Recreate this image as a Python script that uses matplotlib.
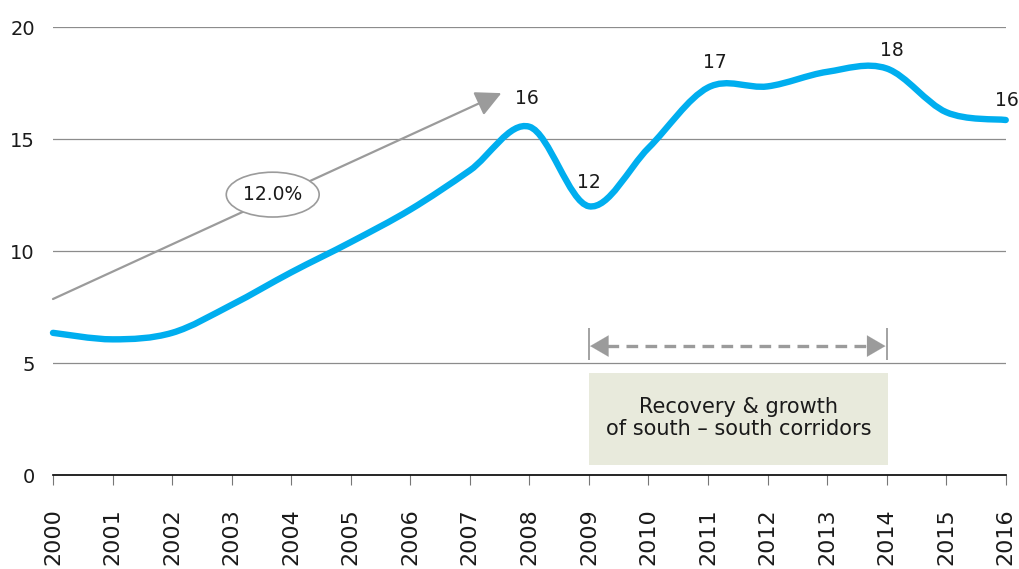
import matplotlib
matplotlib.use("Agg")
import numpy as np
import matplotlib.pyplot as plt
from matplotlib.path import Path
from matplotlib.patches import PathPatch, Ellipse, Rectangle

# data
years = [2000, 2001, 2002, 2003, 2004, 2005, 2006, 2007, 2008,
         2009, 2010, 2011, 2012, 2013, 2014, 2015, 2016]
values = [6.35, 6.06, 6.35, 7.6, 9.05, 10.4, 11.85, 13.6, 15.55,
          12.0, 14.6, 17.3, 17.35, 18.0, 18.15, 16.2, 15.85]
label_years = [2008, 2009, 2011, 2014, 2016]
yticks = [0, 5, 10, 15, 20]
growth_text = "12.0%"
box_text = "Recovery & growth\nof south \u2013 south corridors"

blue = "#00AEEF"
grey = "#9B9B9B"
plt.rcParams["font.family"] = ["DejaVu Sans"]

fig = plt.figure(figsize=(10.19, 5.69), dpi=100)
ax = fig.add_axes([0.052, 0.165, 0.935, 0.7875])

# grid lines
for y in yticks[1:]:
    ax.axhline(y, color="#8C8C8C", lw=0.9, zorder=1)

# smooth line (catmull-rom style bezier like excel)
pts = np.column_stack([years, values]).astype(float)
n = len(pts)
verts = [pts[0]]
codes = [Path.MOVETO]
for i in range(n - 1):
    p_prev = pts[max(i - 1, 0)]
    p0 = pts[i]
    p1 = pts[i + 1]
    p_next = pts[min(i + 2, n - 1)]
    verts += [p0 + (p1 - p_prev) / 6, p1 - (p_next - p0) / 6, p1]
    codes += [Path.CURVE4] * 3
line = PathPatch(Path(verts, codes), transform=ax.transData, fill=False,
                 edgecolor=blue, lw=4.6, capstyle="round", zorder=4, clip_on=False)
ax.add_patch(line)

# value labels
offsets = {2008: (-2, 20), 2009: (0, 17), 2011: (5, 18), 2014: (4, 13), 2016: (1, 14)}
for yr in label_years:
    v = values[years.index(yr)]
    dx, dy = offsets[yr]
    ax.annotate(f"{round(v)}", (yr, v), xytext=(dx, dy), textcoords="offset points",
                ha="center", va="center", fontsize=13.5, color="#1a1a1a", zorder=5)

# growth arrow + ellipse
ax.annotate("", xy=(2007.53, 17.05), xytext=(2000, 7.86),
            arrowprops=dict(arrowstyle="-|>,head_length=0.6,head_width=0.3", color=grey,
                            lw=1.6, mutation_scale=26, shrinkA=0, shrinkB=0), zorder=3)
ax.add_patch(Ellipse((2003.69, 12.52), 1.56, 2.0, facecolor="white",
                     edgecolor=grey, lw=1.2, zorder=5))
ax.text(2003.69, 12.52, growth_text, ha="center", va="center", fontsize=13.5,
        color="#1a1a1a", zorder=6)

# recovery period marker: dashed shaft + solid heads
y_arr = 5.76
ax.plot([2009.3, 2013.7], [y_arr, y_arr], color=grey, lw=2.4,
        dashes=(3.5, 2.2), zorder=3)
for tip, tail in [(2009.02, 2009.4), (2013.98, 2013.6)]:
    ax.annotate("", xy=(tip, y_arr), xytext=(tail, y_arr),
                arrowprops=dict(arrowstyle="-|>,head_length=0.55,head_width=0.32",
                                color=grey, lw=0.1, mutation_scale=24,
                                shrinkA=0, shrinkB=0), zorder=3)
ax.vlines([2009, 2014], 5.13, 6.56, color=grey, lw=1.3, zorder=3)
ax.add_patch(Rectangle((2009, 0.45), 5.03, 4.1, facecolor="#E8EADC",
                       edgecolor="none", zorder=2))
ax.text(2011.52, 2.54, box_text, ha="center", va="center", fontsize=15,
        color="#1a1a1a", linespacing=1.1, zorder=3)

ax.set_xlim(2000, 2016)
ax.set_ylim(0, 20)
ax.set_xticks(years)
ax.set_xticklabels([str(y) for y in years], rotation=90, fontsize=16, color="#1a1a1a")
ax.set_yticks(yticks)
ax.set_yticklabels([str(y) for y in yticks], fontsize=14, color="#1a1a1a")
ax.tick_params(axis="y", length=0, pad=13)
ax.tick_params(axis="x", length=7, width=0.8, color="#777777", pad=17)
for s in ["left", "top", "right"]:
    ax.spines[s].set_visible(False)
ax.spines["bottom"].set_linewidth(1.2)
ax.spines["bottom"].set_color("black")

fig.savefig("out.png", dpi=100)
